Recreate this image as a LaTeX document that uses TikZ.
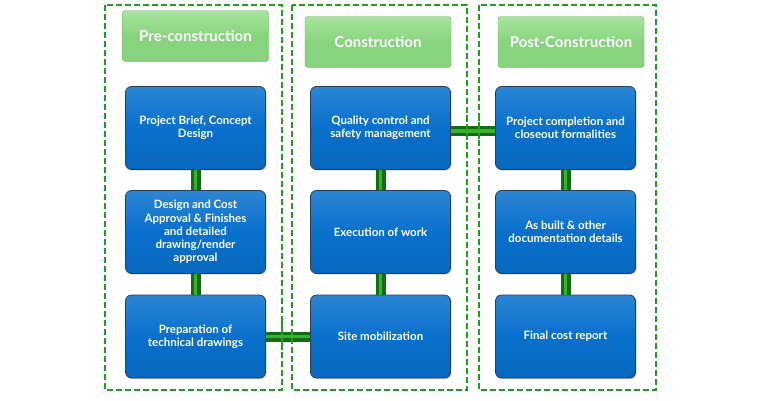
\documentclass[tikz,border=0pt]{standalone}
\usepackage{fontspec}
\setmainfont{Lato}
\usetikzlibrary{shadows,calc}
\definecolor{boxblue}{RGB}{8,112,204}
\definecolor{boxedge}{RGB}{45,60,80}
\definecolor{hdrgreen}{RGB}{136,212,126}
\definecolor{hdrtop}{RGB}{168,228,158}
\definecolor{dashgreen}{RGB}{30,160,30}
\definecolor{barout}{RGB}{15,110,15}
\definecolor{barin}{RGB}{60,175,50}
\begin{document}
\begin{tikzpicture}[x=1pt,y=-1pt,
  phase/.style={draw=dashgreen,line width=2pt,dash pattern=on 6pt off 3pt},
  hdr/.style={minimum width=146pt,minimum height=51pt,rounded corners=3pt,
    top color=hdrtop,bottom color=hdrgreen,middle color=hdrgreen,draw=hdrgreen!80!black,line width=0.4pt,
    text=white,font=\fontsize{15}{17}\selectfont\bfseries,inner sep=0pt},
  task/.style={minimum width=140pt,minimum height=83pt,rounded corners=6pt,
    top color=boxblue!85!white,bottom color=boxblue!92!black,middle color=boxblue,
    draw=boxedge,line width=0.8pt,text=white,align=center,
    font=\fontsize{11.5}{13.2}\selectfont\bfseries,inner sep=0pt,
    drop shadow={shadow xshift=1.2pt,shadow yshift=-1.2pt,opacity=0.35}},
  barO/.style={line width=10pt,draw=barout},
  barI/.style={line width=3.5pt,draw=barin}]
\useasboundingbox (0,0) rectangle (760,400);
\fill[white] (0,0) rectangle (760,400);
% phase frames
\draw[phase] (105,5) rectangle (282,390);
\draw[phase] (292,5) rectangle (467,390);
\draw[phase] (479,5) rectangle (656,390);
% headers
\node[hdr] (h1) at (195.5,36) {Pre-construction};
\node[hdr] (h2) at (378,42) {Construction};
\node[hdr] (h3) at (571,42) {Post-Construction};
% task nodes
\node[task] (a1) at (195.5,128) {Project Brief, Concept\\Design};
\node[task] (a2) at (195.5,232) {Design and Cost\\Approval \& Finishes\\and detailed\\drawing/render\\approval};
\node[task] (a3) at (195.5,336.5) {Preparation of\\technical drawings};
\node[task] (b1) at (380.5,128) {Quality control and\\safety management};
\node[task] (b2) at (380.5,232) {Execution of work};
\node[task] (b3) at (380.5,336.5) {Site mobilization};
\node[task] (c1) at (565.5,128) {Project completion and\\closeout formalities};
\node[task] (c2) at (565.5,232) {As built \& other\\documentation details};
\node[task] (c3) at (565.5,336.5) {Final cost report};
% connectors
\foreach \s in {barO,barI}{
  \draw[\s] (a1.south) -- (a2.north);
  \draw[\s] (a2.south) -- (a3.north);
  \draw[\s] (b1.south) -- (b2.north);
  \draw[\s] (b2.south) -- (b3.north);
  \draw[\s] (c1.south) -- (c2.north);
  \draw[\s] (c2.south) -- (c3.north);
  \draw[\s] (a3.east) -- (b3.west);
  \draw[\s] ([yshift=-3pt]b1.east) -- ([yshift=-3pt]c1.west);
}
% dashed frames over bars
\draw[phase] (282,320) -- (282,350);
\draw[phase] (292,320) -- (292,350);
\draw[phase] (467,115) -- (467,145);
\draw[phase] (479,115) -- (479,145);
\end{tikzpicture}
\end{document}
